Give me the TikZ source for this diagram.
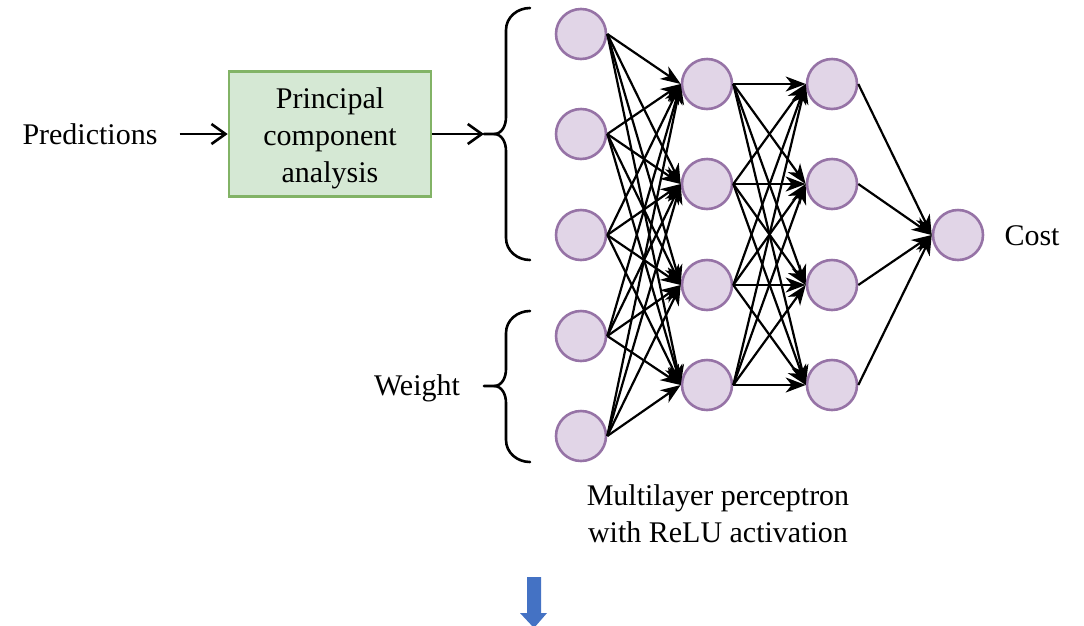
\documentclass[tikz,border=0pt]{standalone}
\usepackage{fontspec}
\setmainfont{Liberation Serif}
\usetikzlibrary{arrows.meta}
\definecolor{nfill}{HTML}{E1D5E7}
\definecolor{ndraw}{HTML}{9673A6}
\definecolor{gfill}{HTML}{D5E8D4}
\definecolor{gdraw}{HTML}{82B366}
\definecolor{barrow}{HTML}{4472C4}
\tikzset{
  neuron/.style={circle, minimum size=50pt, inner sep=0pt, fill=nfill, draw=ndraw, line width=2.6pt},
  pcabox/.style={rectangle, minimum width=202pt, minimum height=125pt, fill=gfill, draw=gdraw, line width=2.6pt, align=center, inner sep=0pt},
  lbl/.style={inner sep=0pt, align=center, font=\fontsize{30}{37}\selectfont},
  edge/.style={line width=2.2pt, -{Stealth[length=20pt,width=15pt,inset=6pt]}},
  openarrow/.style={line width=2.6pt, -{Straight Barb[length=14pt,width=20pt,line width=2.6pt]}},
  bracepath/.style={line width=2.6pt, line cap=round, line join=round},
}
\begin{document}
\begin{tikzpicture}[x=1pt,y=-1pt]
\useasboundingbox (0,0) rectangle (1084,625);
\clip (0,0) rectangle (1084,625);
% labels
\node[lbl] (pred) at (90,134) {Predictions};
\node[pcabox, lbl] (pca) at (330,134) {\rule{0pt}{28.5pt}Principal\\component\\analysis};
\node[lbl] (weight) at (417,388) {Weight};
\node[lbl] (cost) at (1032,236) {Cost};
\node[lbl] (mlp) at (718,514) {Multilayer perceptron\\with ReLU activation};
% neurons
\foreach \i/\y in {1/34,2/134,3/235,4/336,5/436} \node[neuron] (i\i) at (581,\y) {};
\foreach \i/\y in {1/84,2/184,3/285,4/385} \node[neuron] (h\i) at (707,\y) {};
\foreach \i/\y in {1/84,2/184,3/285,4/385} \node[neuron] (g\i) at (832,\y) {};
\node[neuron] (o) at (958,235) {};
% edges
\foreach \a in {1,...,5} \foreach \b in {1,...,4} \draw[edge] (i\a.east) -- (h\b.west);
\foreach \a in {1,...,4} \foreach \b in {1,...,4} \draw[edge] (h\a.east) -- (g\b.west);
\foreach \a in {1,...,4} \draw[edge] (g\a.east) -- (o.west);
% braces
\coordinate (bt1) at (484,134);
\coordinate (bt2) at (484,386);
\draw[bracepath] (530,8) to[out=180,in=90] (506,30) -- (506,117) to[out=-90,in=0] (494,134) -- (bt1);
\draw[bracepath] (494,134) to[out=0,in=90] (506,151) -- (506,238) to[out=-90,in=180] (530,260);
\draw[bracepath] (530,311) to[out=180,in=90] (506,333) -- (506,369) to[out=-90,in=0] (494,386) -- (bt2);
\draw[bracepath] (494,386) to[out=0,in=90] (506,403) -- (506,440) to[out=-90,in=180] (530,462);
% arrows
\draw[openarrow] ([xshift=22pt]pred.east |- pca.west) -- (pca.west);
\draw[openarrow] (pca.east) -- (bt1);
% blue arrow
\fill[barrow] (527,577) -- (541,577) -- (541,613) -- (547,613) -- (534,628) -- (520,613) -- (527,613) -- cycle;
\end{tikzpicture}
\end{document}
